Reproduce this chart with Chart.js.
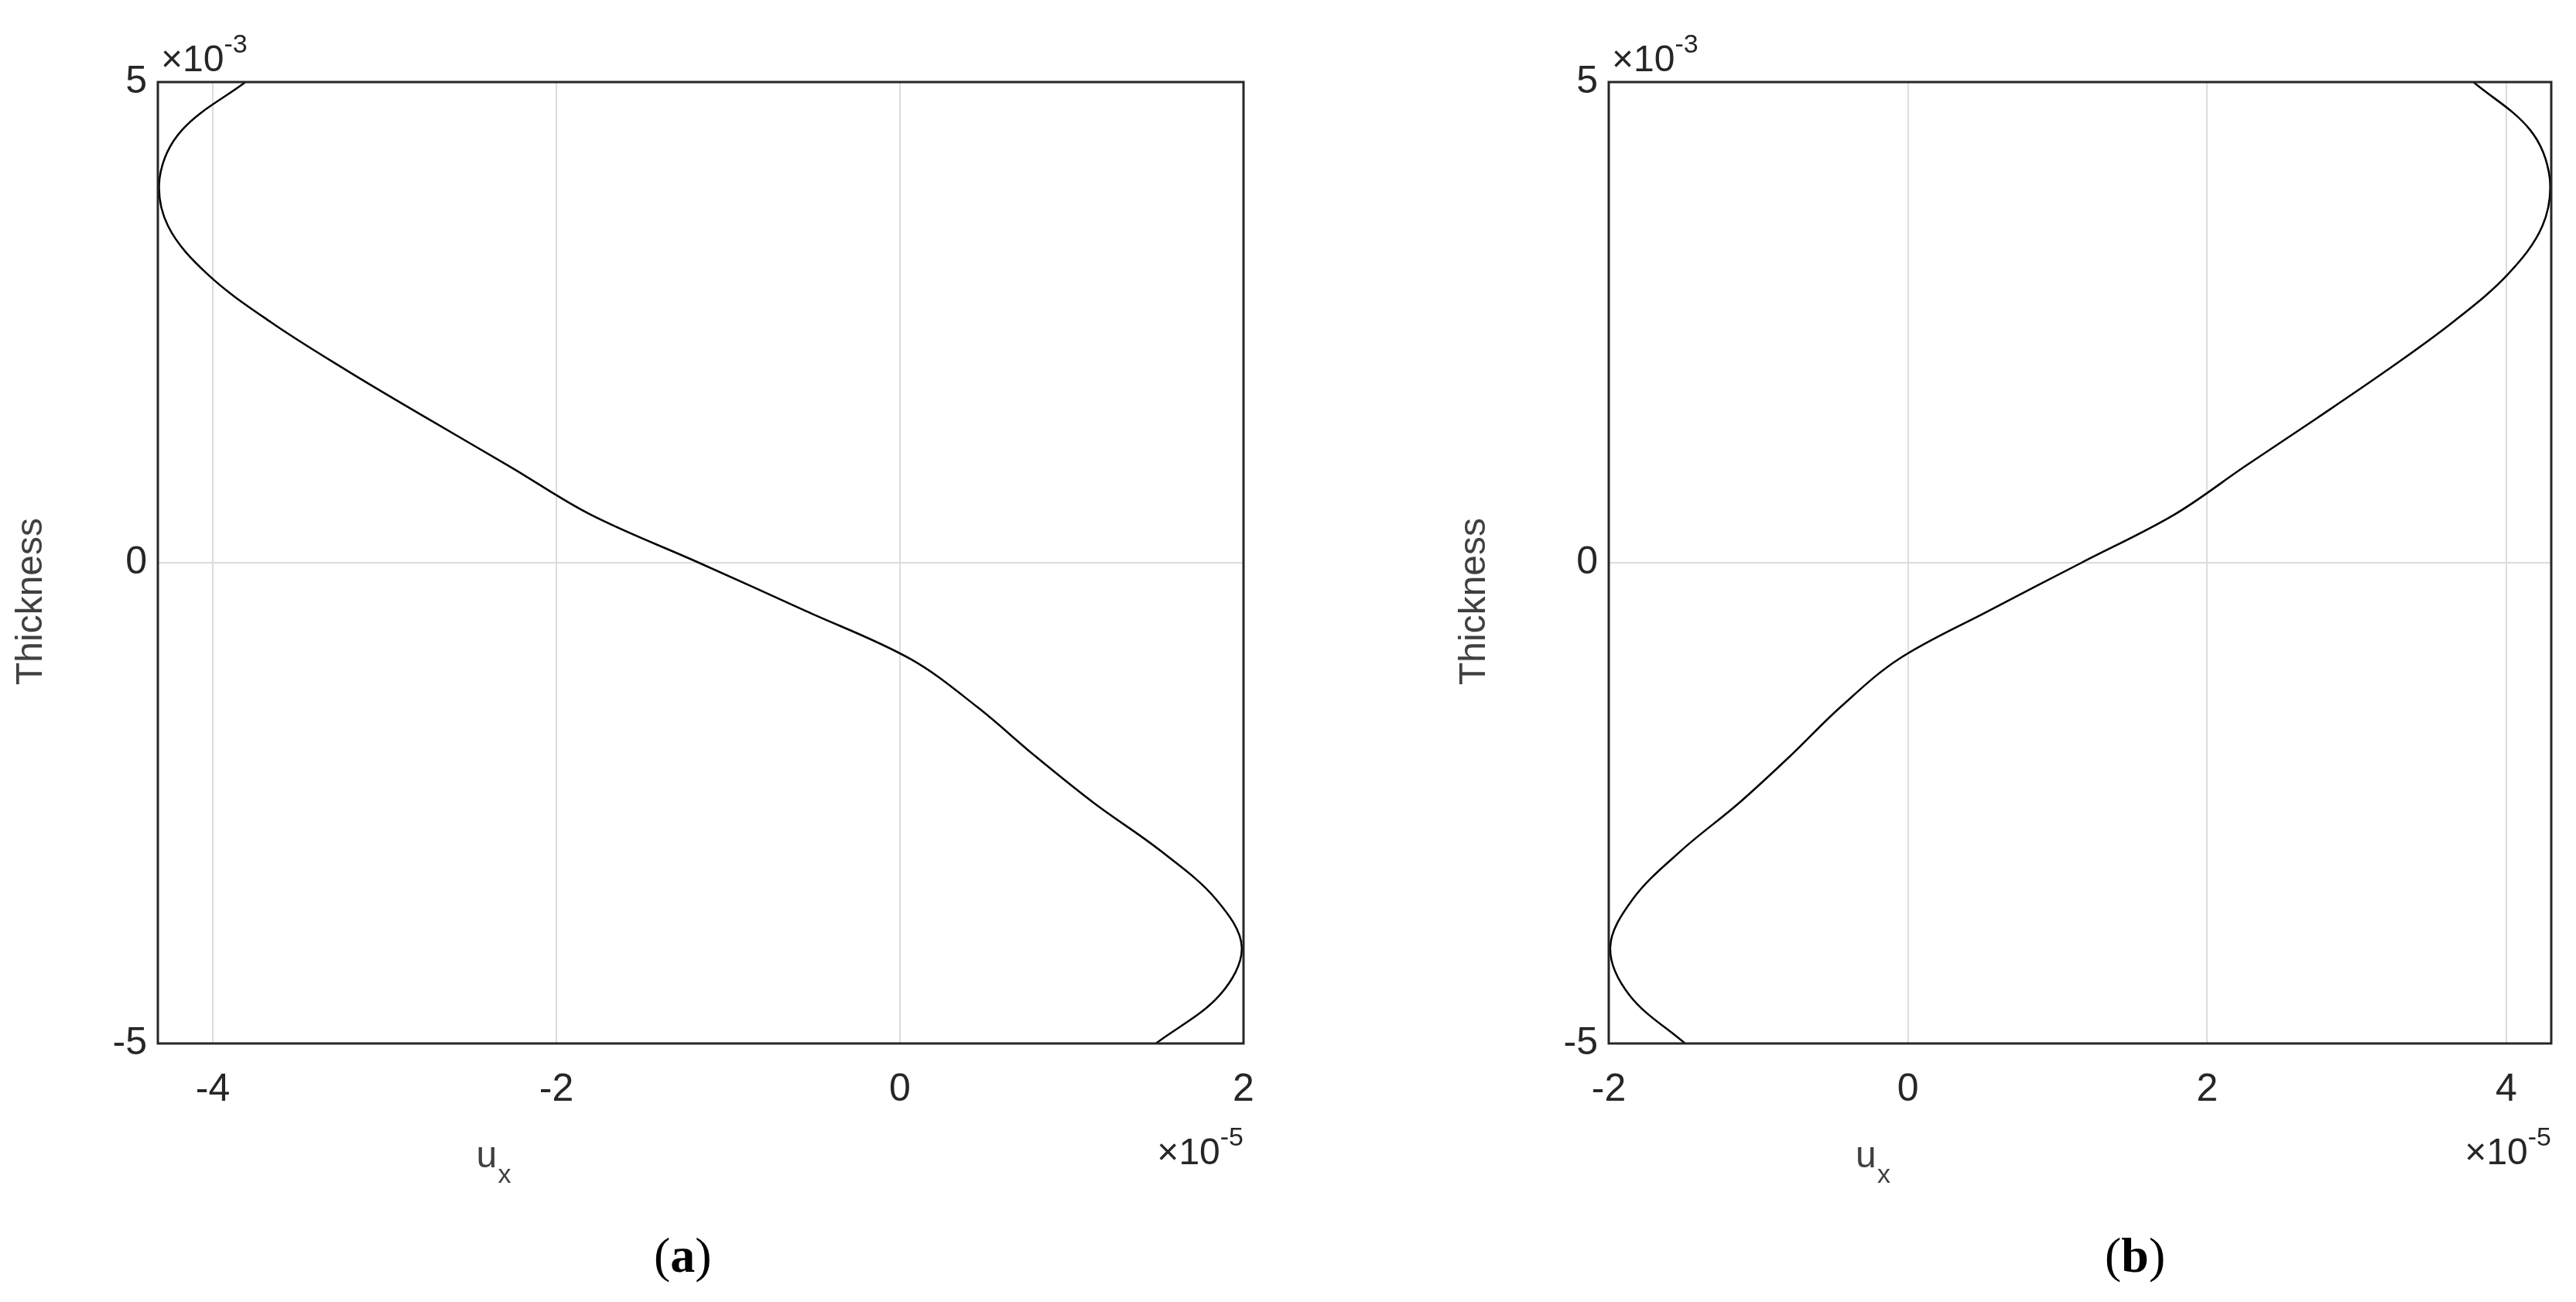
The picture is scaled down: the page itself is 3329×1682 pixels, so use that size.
<!DOCTYPE html>
<html>
<head>
<meta charset="utf-8">
<script src="https://cdn.jsdelivr.net/npm/chart.js@4.4.1/dist/chart.umd.min.js"></script>
<style>
  body { margin: 0; background: #fff; width: 3329px; height: 1682px; position: relative; overflow: hidden; }
  .panel { position: absolute; top: 0; width: 1664px; height: 1682px; }
  .cap { position: absolute; top: 1585px; font-family: "Liberation Serif", serif; font-size: 64px; color: #000; }
</style>
</head>
<body>
<div class="panel" style="left:0"><canvas id="chartA" width="1664" height="1682"></canvas></div>
<div class="panel" style="left:1664px"><canvas id="chartB" width="1665" height="1682"></canvas></div>
<div class="cap" style="left:845px">(<b>a</b>)</div>
<div class="cap" style="left:2720px">(<b>b</b>)</div>
<script>
// thickness z (x 1e-3) and displacement u_x (x 1e-5)
const espessura = [5, 4.5, 4, 3.5, 3, 2.5, 2, 1.5, 1, 0.5, 0, -0.5, -1, -1.5, -2, -2.5, -3, -3.5, -4, -4.5, -5];
const deslocA = [-3.81, -4.18, -4.31, -4.26, -4.03, -3.66, -3.22, -2.75, -2.27, -1.8, -1.17, -0.55, 0.06, 0.45, 0.78, 1.13, 1.52, 1.84, 1.99, 1.86, 1.49];
const deslocB = [3.78, 4.16, 4.29, 4.24, 4.01, 3.64, 3.2, 2.73, 2.25, 1.78, 1.16, 0.54, -0.06, -0.45, -0.78, -1.13, -1.52, -1.84, -1.99, -1.86, -1.49];

const ticksXA = [-4, -2, 0, 2];
const ticksXB = [-2, 0, 2, 4];
const ticksY = [-5, 0, 5];

const corTexto = '#262626';
const fonte = 'Liberation Sans, Arial, sans-serif';

function criarGrafico(id, xs, zs, xMin, xMax, ticksX, esq, dir) {
  const pontos = zs.map((z, i) => ({ x: xs[i], y: z }));
  const extras = {
    id: 'extras',
    afterDraw(chart) {
      const { ctx, chartArea: a } = chart;
      ctx.save();
      ctx.strokeStyle = corTexto;
      ctx.lineWidth = 3;
      ctx.strokeRect(a.left, a.top, a.right - a.left, a.bottom - a.top);
      ctx.fillStyle = corTexto;
      ctx.textBaseline = 'alphabetic';
      ctx.font = '48px ' + fonte;
      ctx.textAlign = 'left';
      ctx.fillText('\u00d710', a.left + 4, a.top - 14);
      let w = ctx.measureText('\u00d710').width;
      ctx.font = '34px ' + fonte;
      ctx.fillText('-3', a.left + 4 + w, a.top - 38);
      const wExp = ctx.measureText('-5').width;
      ctx.textAlign = 'right';
      ctx.fillText('-5', a.right, a.bottom + 132);
      ctx.font = '48px ' + fonte;
      ctx.fillText('\u00d710', a.right - wExp, a.bottom + 156);
      // u_x label
      const cx = (a.left + a.right) / 2 + (esq ? -290 : -170);
      ctx.textAlign = 'left';
      ctx.fillStyle = '#404040';
      ctx.font = '48px ' + fonte;
      ctx.fillText('u', cx, a.bottom + 160);
      ctx.font = '34px ' + fonte;
      ctx.fillText('x', cx + 28, a.bottom + 180);
      // Thickness
      ctx.save();
      ctx.translate(a.left - (esq > 300 ? 160 : 150), (a.top + a.bottom) / 2 + 50);
      ctx.rotate(-Math.PI / 2);
      ctx.textAlign = 'center';
      ctx.font = '48px ' + fonte;
      ctx.fillText('Thickness', 0, 0);
      ctx.restore();
      ctx.restore();
    }
  };
  return new Chart(document.getElementById(id), {
    type: 'scatter',
    data: {
      datasets: [{
        data: pontos,
        showLine: true,
        borderColor: '#000',
        borderWidth: 2.5,
        pointRadius: 0,
        tension: 0.35
      }]
    },
    options: {
      responsive: false,
      animation: false,
      layout: { padding: { top: 106, right: dir, bottom: 0, left: 0 } },
      plugins: { legend: { display: false }, tooltip: { enabled: false } },
      scales: {
        x: {
          type: 'linear', min: xMin, max: xMax,
          afterBuildTicks: s => { s.ticks = ticksX.map(v => ({ value: v })); },
          afterFit: s => { s.height = 1682 - 106 - 1242; },
          grid: { color: '#dcdcdc', lineWidth: 2, drawTicks: false },
          border: { display: false },
          ticks: { color: corTexto, font: { size: 50, family: fonte }, padding: 30, callback: v => v }
        },
        y: {
          type: 'linear', min: -5, max: 5,
          afterBuildTicks: s => { s.ticks = ticksY.map(v => ({ value: v })); },
          afterFit: s => { s.width = esq; },
          grid: { color: '#dcdcdc', lineWidth: 2, drawTicks: false },
          border: { display: false },
          ticks: { color: corTexto, font: { size: 50, family: fonte }, padding: 14, callback: v => v }
        }
      }
    },
    plugins: [extras]
  });
}

criarGrafico('chartA', deslocA, espessura, -4.32, 2, ticksXA, 204, 57);
criarGrafico('chartB', deslocB, espessura, -2, 4.3, ticksXB, 415, 32);
</script>
</body>
</html>
